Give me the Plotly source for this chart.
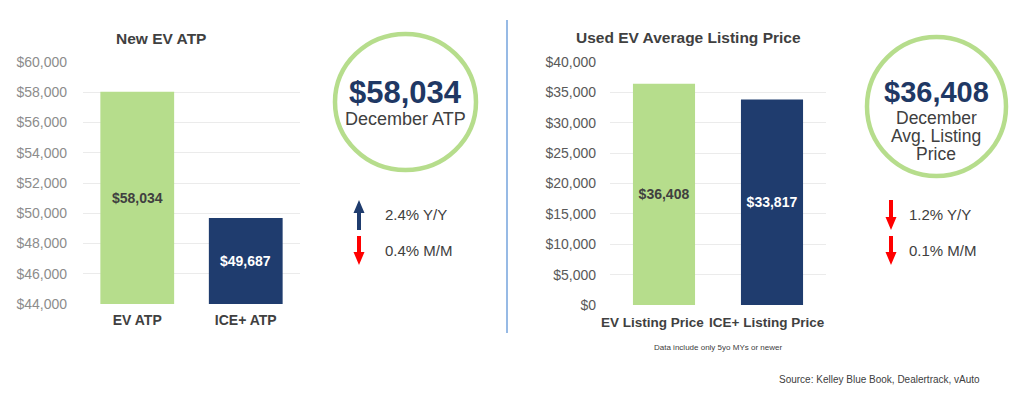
import plotly.graph_objects as go

# ---- data ----
new_categories = ["EV ATP", "ICE+ ATP"]
new_values = [58034, 49687]
new_labels = ["$58,034", "$49,687"]
new_ticks = [44000, 46000, 48000, 50000, 52000, 54000, 56000, 58000, 60000]
new_range = [44000, 60000]

used_categories = ["EV Listing Price", "ICE+ Listing Price"]
used_values = [36408, 33817]
used_labels = ["$36,408", "$33,817"]
used_ticks = [0, 5000, 10000, 15000, 20000, 25000, 30000, 35000, 40000]
used_range = [0, 40000]

new_headline = "$58,034"
new_headline_sub = ["December ATP"]
new_changes = [("up", "2.4% Y/Y"), ("down", "0.4% M/M")]

used_headline = "$36,408"
used_headline_sub = ["December", "Avg. Listing", "Price"]
used_changes = [("down", "1.2% Y/Y"), ("down", "0.1% M/M")]

# page body has an 8px margin: figure is placed at (8, 8) in the window
OFF = 8
W, H = 1008, 383
GREEN = "#b6dd8c"
NAVY = "#1f3c6e"
RED = "#ff0000"
FONT = "Liberation Sans, Arial, sans-serif"
LABEL_COLORS = ["#404040", "#ffffff"]
USED_CAT_SHIFT = [-12, -5]


def px(x):
    return (x - OFF) / W


def py(y):
    return 1 - (y - OFF) / H


fig = go.Figure()

fig.add_trace(go.Bar(
    x=new_categories, y=new_values,
    marker=dict(color=[GREEN, NAVY], line=dict(width=0)),
    width=0.68, textposition="none",
    xaxis="x", yaxis="y", showlegend=False, hoverinfo="skip",
))
fig.add_trace(go.Bar(
    x=used_categories, y=used_values, text=used_labels,
    marker=dict(color=[GREEN, NAVY], line=dict(width=0)),
    width=0.575, textposition="inside", insidetextanchor="middle",
    textfont=dict(family=FONT, size=14, color=LABEL_COLORS, weight="bold"),
    textangle=0, xaxis="x2", yaxis="y2", showlegend=False, hoverinfo="skip",
))

axis_common = dict(showline=False, zeroline=False, ticks="", automargin=False)
fig.update_layout(
    width=W, height=H,
    margin=dict(l=0, r=0, t=0, b=0, autoexpand=False),
    paper_bgcolor="white", plot_bgcolor="white",
    font=dict(family=FONT),
    xaxis=dict(domain=[px(83), px(300)], range=[-0.5, 1.5], showgrid=False, tickangle=0,
               tickfont=dict(size=14, color="#404040", weight="bold"), anchor="y",
               ticklabelstandoff=6, **axis_common),
    yaxis=dict(domain=[py(304), py(62)], range=new_range, tickvals=new_ticks,
               ticktext=[f"${v:,}" for v in new_ticks], gridcolor="#ebebeb",
               tickfont=dict(size=14, color="#8c8c8c"), anchor="x", ticklabelstandoff=15,
               **axis_common),
    xaxis2=dict(domain=[px(610), px(826)], range=[-0.5, 1.5], showgrid=False,
                showticklabels=False, anchor="y2", **axis_common),
    yaxis2=dict(domain=[py(305), py(62)], range=used_range, tickvals=used_ticks,
                ticktext=[f"${v:,}" for v in used_ticks], gridcolor="#ebebeb",
                tickfont=dict(size=14, color="#595959"), anchor="x2", ticklabelstandoff=13,
                **axis_common),
)

shapes = []
annotations = []


def text(x, y, s, size, color, xanchor="center"):
    annotations.append(dict(x=px(x), y=py(y), xref="paper", yref="paper", text=s,
                            xanchor=xanchor, yanchor="middle", showarrow=False,
                            font=dict(size=size, color=color)))


# bar labels for the truncated-axis chart (centred on visible part of each bar)
for cat, val, lab, col in zip(new_categories, new_values, new_labels, LABEL_COLORS):
    annotations.append(dict(x=cat, y=(new_range[0] + val) / 2, xref="x", yref="y", text=f"<b>{lab}</b>",
                            xanchor="center", yanchor="middle",
                            showarrow=False, font=dict(size=14, color=col)))

# category labels of the used-EV chart (placed through its category axis)
for cat, sh in zip(used_categories, USED_CAT_SHIFT):
    annotations.append(dict(x=cat, y=py(322), xref="x2", yref="paper", text=f"<b>{cat}</b>",
                            xanchor="center", yanchor="middle", xshift=sh,
                            showarrow=False, font=dict(size=13.5, color="#404040")))

# titles
text(161, 39, "<b>New EV ATP</b>", 15.5, "#404040")
text(688, 38, "<b>Used EV Average Listing Price</b>", 15.5, "#404040")

# divider
shapes.append(dict(type="line", xref="paper", yref="paper", x0=px(507), x1=px(507),
                   y0=py(20), y1=py(333), line=dict(color="#74a3dc", width=1.5)))


def ellipse(cx, cy, rx, ry):
    shapes.append(dict(type="circle", xref="paper", yref="paper",
                       x0=px(cx - rx), x1=px(cx + rx), y0=py(cy + ry), y1=py(cy - ry),
                       line=dict(color=GREEN, width=4.5), fillcolor="rgba(0,0,0,0)"))


def arrow(cx, ytop, ybot, direction, color):
    hw, sw, hh = 5.5, 2, 13
    if direction == "up":
        pts = [(cx, ytop), (cx + hw, ytop + hh), (cx + sw, ytop + hh), (cx + sw, ybot),
               (cx - sw, ybot), (cx - sw, ytop + hh), (cx - hw, ytop + hh)]
    else:
        pts = [(cx, ybot), (cx + hw, ybot - hh), (cx + sw, ybot - hh), (cx + sw, ytop),
               (cx - sw, ytop), (cx - sw, ybot - hh), (cx - hw, ybot - hh)]
    path = "M " + " L ".join(f"{px(x)},{py(y)}" for x, y in pts) + " Z"
    shapes.append(dict(type="path", xref="paper", yref="paper", path=path,
                       fillcolor=color, line=dict(width=0)))


# left circle panel
ellipse(405.5, 102, 70.5, 68)
text(405, 92, f"<b>{new_headline}</b>", 31, "#1f3864")
for i, line in enumerate(new_headline_sub):
    text(405, 119 + 18 * i, line, 18, "#404040")

# right circle panel
ellipse(936.5, 106.5, 69.5, 69.5)
text(936, 92, f"<b>{used_headline}</b>", 29, "#1f3864")
for i, line in enumerate(used_headline_sub):
    text(936, 118 + 18 * i, line, 17.5, "#404040")


def change_rows(changes, ax, tx):
    rows = [(200, 230, 214), (236, 265, 251)]
    for (direction, label), (yt, yb, ytxt) in zip(changes, rows):
        arrow(ax, yt, yb, direction, NAVY if direction == "up" else RED)
        text(tx, ytxt, label, 15, "#404040", xanchor="left")


change_rows(new_changes, 359, 383)
change_rows(used_changes, 891, 907)

# footnotes
text(652, 347, "Data include only 5yo MYs or newer", 8, "#404040", xanchor="left")
text(777, 379, "Source: Kelley Blue Book, Dealertrack, vAuto", 10, "#404040", xanchor="left")

fig.update_layout(shapes=shapes, annotations=annotations)
fig.write_html("out.html")
